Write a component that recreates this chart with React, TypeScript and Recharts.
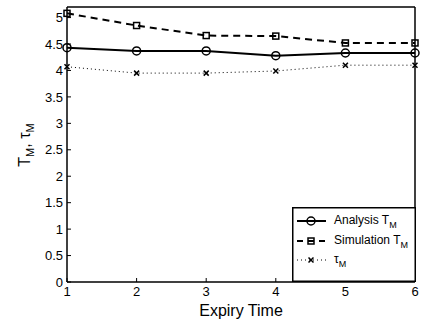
import { Label, Line, LineChart, XAxis, YAxis } from "recharts";

const expiry = [1, 2, 3, 4, 5, 6];
const analysisT = [4.43, 4.37, 4.37, 4.28, 4.33, 4.33];
const simulationT = [5.08, 4.85, 4.66, 4.65, 4.52, 4.52];
const tau = [4.07, 3.95, 3.95, 3.99, 4.1, 4.1];
const yTicks = [0, 0.5, 1, 1.5, 2, 2.5, 3, 3.5, 4, 4.5, 5];

const data = expiry.map((x, i) => ({
  x,
  analysis: analysisT[i],
  simulation: simulationT[i],
  tau: tau[i],
}));

const FONT = "'Liberation Sans', Arial, Helvetica, sans-serif";

const CircleDot = (props: any) => {
  const { cx, cy } = props;
  return <circle cx={cx} cy={cy} r={4} fill="none" stroke="#000" strokeWidth={1.5} />;
};

const SquareDot = (props: any) => {
  const { cx, cy } = props;
  return <rect x={cx - 3} y={cy - 3} width={6} height={6} fill="none" stroke="#000" strokeWidth={1.5} />;
};

const CrossDot = (props: any) => {
  const { cx, cy } = props;
  return (
    <path
      d={`M${cx - 2.5},${cy - 2.5}L${cx + 2.5},${cy + 2.5}M${cx - 2.5},${cy + 2.5}L${cx + 2.5},${cy - 2.5}`}
      stroke="#000"
      strokeWidth={1.5}
    />
  );
};

// legend drawn as an overlay, the chart's own Legend would steal plot space
function LegendBox() {
  const rows = [
    { y: 14, label: "Analysis T", dash: undefined, width: 2, Dot: CircleDot },
    { y: 34, label: "Simulation T", dash: "6 5", width: 2, Dot: SquareDot },
    { y: 53, label: "\u03c4", dash: "1 3", width: 1, Dot: CrossDot },
  ];
  return (
    <svg
      width={124}
      height={75}
      style={{ position: "absolute", left: 292, top: 207, display: "block" }}
    >
      <rect x={0.75} y={0.75} width={122.5} height={73.5} fill="#fff" stroke="#000" strokeWidth={1.5} />
      {rows.map((r) => (
        <g key={r.label}>
          <line x1={5} x2={34} y1={r.y} y2={r.y} stroke="#000" strokeWidth={r.width} strokeDasharray={r.dash} />
          <r.Dot cx={19} cy={r.y} />
          <text x={42} y={r.y + 3} fontSize={12} fontFamily={FONT} fill="#000">
            {r.label}
            <tspan dy={4} fontSize={9}>M</tspan>
          </text>
        </g>
      ))}
    </svg>
  );
}

const YLabel = () => (
  <text
    x={30}
    y={145}
    transform="rotate(-90 30 145)"
    textAnchor="middle"
    fontSize={16}
    fontFamily={FONT}
    fill="#000"
  >
    T<tspan dy={4} fontSize={11}>M</tspan>
    <tspan dy={-4}>, </tspan>
    {"\u03c4"}
    <tspan dy={4} fontSize={11}>M</tspan>
  </text>
);

export default function App() {
  return (
    <div style={{ position: "absolute", left: 0, top: 0, width: 425, height: 322, background: "#fff" }}>
      <LineChart
        width={425}
        height={322}
        data={data}
        margin={{ top: 6, right: 9, bottom: 0, left: 0 }}
        style={{ fontFamily: FONT }}
      >
        <XAxis
          dataKey="x"
          type="number"
          domain={[1, 6]}
          ticks={expiry}
          height={40}
          stroke="#000"
          tickSize={-4}
          tickMargin={9}
          tick={{ fill: "#000", fontSize: 13 }}
          axisLine={{ stroke: "#000", strokeWidth: 1.5 }}
        >
          <Label value="Expiry Time" position="insideBottom" offset={6} fontSize={16} fill="#000" />
        </XAxis>
        <XAxis
          xAxisId="top"
          orientation="top"
          dataKey="x"
          type="number"
          domain={[1, 6]}
          ticks={expiry}
          height={1}
          stroke="#000"
          tickSize={-4}
          tick={false}
          axisLine={{ stroke: "#000", strokeWidth: 1.5 }}
        />
        <YAxis
          type="number"
          domain={[0, 5.2]}
          ticks={yTicks}
          width={67}
          stroke="#000"
          tickSize={-4}
          tickMargin={8}
          tick={{ fill: "#000", fontSize: 13 }}
          axisLine={{ stroke: "#000", strokeWidth: 1.5 }}
          label={<YLabel />}
        />
        <YAxis
          yAxisId="right"
          orientation="right"
          type="number"
          domain={[0, 5.2]}
          ticks={yTicks}
          width={1}
          stroke="#000"
          tickSize={-4}
          tick={false}
          axisLine={{ stroke: "#000", strokeWidth: 1.5 }}
        />
        <Line
          dataKey="analysis"
          stroke="#000"
          strokeWidth={2}
          dot={<CircleDot />}
          isAnimationActive={false}
        />
        <Line
          dataKey="simulation"
          stroke="#000"
          strokeWidth={2}
          strokeDasharray="7 5"
          dot={<SquareDot />}
          isAnimationActive={false}
        />
        <Line
          dataKey="tau"
          xAxisId="top"
          yAxisId="right"
          stroke="#000"
          strokeWidth={1}
          strokeDasharray="1 3"
          dot={<CrossDot />}
          isAnimationActive={false}
        />
      </LineChart>
      <LegendBox />
    </div>
  );
}
